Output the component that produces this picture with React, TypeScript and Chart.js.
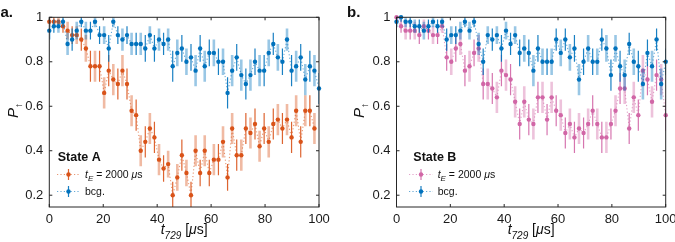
import React, { useEffect, useRef } from 'react';
import { Chart, registerables } from 'chart.js';

Chart.register(...registerables);

const FONT = '"Liberation Sans", Arial, Helvetica, sans-serif';

// Probe delay t_729 in microseconds (60 equally spaced settings)
const TIME_US = [
  0, 1.69, 3.39, 5.08, 6.78, 8.47, 10.17, 11.86, 13.56, 15.25,
  16.95, 18.64, 20.34, 22.03, 23.73, 25.42, 27.12, 28.81, 30.51, 32.2,
  33.9, 35.59, 37.29, 38.98, 40.68, 42.37, 44.07, 45.76, 47.46, 49.15,
  50.85, 52.54, 54.24, 55.93, 57.63, 59.32, 61.02, 62.71, 64.41, 66.1,
  67.8, 69.49, 71.19, 72.88, 74.58, 76.27, 77.97, 79.66, 81.36, 83.05,
  84.75, 86.44, 88.14, 89.83, 91.53, 93.22, 94.92, 96.61, 98.31, 100,
];

// State A, t_E = 2000 us
const A_SIGNAL = [
  0.98, 0.98, 0.98, 0.96, 0.94, 0.92, 0.92, 0.9, 0.86, 0.78,
  0.78, 0.78, 0.66, 0.76, 0.72, 0.7, 0.76, 0.7, 0.58, 0.56,
  0.4, 0.44, 0.5, 0.46, 0.36, 0.32, 0.34, 0.2, 0.28, 0.38,
  0.3, 0.2, 0.4, 0.3, 0.4, 0.3, 0.36, 0.36, 0.44, 0.28,
  0.5, 0.38, 0.38, 0.5, 0.48, 0.52, 0.42, 0.5, 0.44, 0.52,
  0.54, 0.5, 0.54, 0.46, 0.58, 0.44, 0.58, 0.58, 0.5,
];
const A_SIGNAL_ERR = [
  0.025, 0.025, 0.025, 0.03, 0.04, 0.04, 0.04, 0.05, 0.06, 0.07,
  0.07, 0.07, 0.07, 0.07, 0.07, 0.07, 0.07, 0.07, 0.07, 0.07,
  0.07, 0.07, 0.07, 0.07, 0.07, 0.06, 0.06, 0.06, 0.06, 0.07,
  0.06, 0.06, 0.07, 0.06, 0.07, 0.06, 0.07, 0.07, 0.07, 0.06,
  0.07, 0.07, 0.07, 0.07, 0.07, 0.07, 0.07, 0.07, 0.07, 0.07,
  0.07, 0.07, 0.07, 0.07, 0.07, 0.07, 0.07, 0.07, 0.07,
];
// State A, background
const A_BCG = [
  0.94, 0.96, 0.96, 0.98, 0.88, 0.9, 0.94, 0.98, 0.94, 0.94,
  0.98, 0.92, 0.92, 0.86, 0.98, 0.92, 0.9, 0.92, 0.88, 0.88,
  0.88, 0.86, 0.92, 0.86, 0.9, 0.88, 0.9, 0.78, 0.84, 0.86,
  0.8, 0.82, 0.76, 0.86, 0.78, 0.84, 0.84, 0.8, 0.8, 0.66,
  0.76, 0.82, 0.74, 0.7, 0.74, 0.8, 0.76, 0.76, 0.84, 0.88,
  0.82, 0.8, 0.9, 0.76, 0.78, 0.82, 0.72, 0.78, 0.76, 0.68,
];
const A_BCG_ERR = [
  0.04, 0.03, 0.03, 0.025, 0.05, 0.05, 0.04, 0.025, 0.04, 0.04,
  0.025, 0.04, 0.04, 0.06, 0.025, 0.04, 0.05, 0.04, 0.05, 0.05,
  0.05, 0.06, 0.04, 0.06, 0.05, 0.05, 0.05, 0.07, 0.06, 0.06,
  0.06, 0.06, 0.07, 0.06, 0.07, 0.06, 0.06, 0.06, 0.06, 0.07,
  0.07, 0.06, 0.07, 0.07, 0.07, 0.06, 0.07, 0.07, 0.06, 0.05,
  0.06, 0.06, 0.05, 0.07, 0.07, 0.06, 0.07, 0.07, 0.07, 0.07,
];

// State B, t_E = 2000 us
const B_SIGNAL = [
  1.0, 0.96, 0.94, 0.94, 0.94, 0.92, 0.96, 0.94, 0.92, 0.92,
  0.96, 0.82, 0.8, 0.86, 0.88, 0.76, 0.78, 0.84, 0.86, 0.7,
  0.7, 0.68, 0.64, 0.76, 0.74, 0.72, 0.62, 0.52, 0.62, 0.54,
  0.52, 0.64, 0.64, 0.54, 0.64, 0.58, 0.56, 0.48, 0.52, 0.46,
  0.5, 0.48, 0.52, 0.58, 0.52, 0.46, 0.46, 0.52, 0.58, 0.68,
  0.68, 0.5, 0.64, 0.56, 0.76, 0.72, 0.62, 0.74, 0.72, 0.56,
];
const B_SIGNAL_ERR = [
  0.02, 0.03, 0.04, 0.04, 0.04, 0.04, 0.03, 0.04, 0.04, 0.04,
  0.03, 0.06, 0.06, 0.06, 0.05, 0.07, 0.07, 0.06, 0.06, 0.07,
  0.07, 0.07, 0.07, 0.07, 0.07, 0.07, 0.07, 0.07, 0.07, 0.07,
  0.07, 0.07, 0.07, 0.07, 0.07, 0.07, 0.07, 0.07, 0.07, 0.07,
  0.07, 0.07, 0.07, 0.07, 0.07, 0.07, 0.07, 0.07, 0.07, 0.07,
  0.07, 0.07, 0.07, 0.07, 0.07, 0.07, 0.07, 0.07, 0.07, 0.07,
];
// State B, background
const B_BCG = [
  0.98, 1.0, 0.98, 0.98, 0.96, 0.96, 0.94, 0.96, 0.98, 0.96,
  0.98, 0.9, 0.92, 0.92, 0.94, 0.98, 0.94, 0.98, 0.88, 0.8,
  0.92, 0.9, 0.92, 0.86, 0.94, 0.88, 0.92, 0.84, 0.86, 0.84,
  0.76, 0.86, 0.8, 0.8, 0.8, 0.9, 0.84, 0.9, 0.82, 0.86,
  0.72, 0.8, 0.86, 0.8, 0.8, 0.9, 0.86, 0.74, 0.86, 0.78,
  0.74, 0.88, 0.8, 0.78, 0.7, 0.84, 0.78, 0.9, 0.7, 0.8,
];
const B_BCG_ERR = [
  0.025, 0.02, 0.025, 0.025, 0.03, 0.03, 0.04, 0.03, 0.025, 0.03,
  0.025, 0.05, 0.04, 0.04, 0.04, 0.025, 0.04, 0.025, 0.05, 0.06,
  0.04, 0.05, 0.04, 0.06, 0.04, 0.05, 0.04, 0.06, 0.06, 0.06,
  0.07, 0.06, 0.06, 0.06, 0.06, 0.05, 0.06, 0.05, 0.06, 0.06,
  0.07, 0.06, 0.06, 0.06, 0.06, 0.05, 0.06, 0.07, 0.06, 0.07,
  0.07, 0.05, 0.06, 0.07, 0.07, 0.06, 0.07, 0.05, 0.07, 0.06,
];

const Y_TICKS = [0.2, 0.4, 0.6, 0.8, 1];
const X_TICK_STEP = 20;

const ORANGE = [217, 83, 25];
const BLUE = [0, 114, 189];
const PINK = [209, 102, 166];

const rgba = (c: number[], a: number) => `rgba(${c[0]},${c[1]},${c[2]},${a})`;

type Run = { text: string; font: string; dy?: number };

function runsWidth(ctx: CanvasRenderingContext2D, runs: Run[]) {
  let w = 0;
  for (const r of runs) {
    ctx.font = r.font;
    w += ctx.measureText(r.text).width;
  }
  return w;
}

function drawRuns(ctx: CanvasRenderingContext2D, runs: Run[], x: number, y: number) {
  let cx = x;
  for (const r of runs) {
    ctx.font = r.font;
    ctx.fillText(r.text, cx, y + (r.dy || 0));
    cx += ctx.measureText(r.text).width;
  }
}

type SeriesSpec = { values: number[]; errors: number[]; color: number[]; order: number };

type PanelSpec = {
  left: number;
  width: number;
  padLeft: number;
  padRight: number;
  yAxisWidth: number;
  tag: string;
  tagX: number;
  yTitleX: number;
  stateName: string;
  legendTitleDx: number;
  legendLineDx: [number, number];
  legendTextDx: number;
  signal: SeriesSpec;
  bcg: SeriesSpec;
};

const errorBarPlugin = {
  id: 'errorBars',
  beforeDatasetDraw(chart: any, args: any) {
    const ds = chart.data.datasets[args.index];
    if (!ds.errors) return;
    const { ctx, chartArea } = chart;
    const ys = chart.scales.y;
    ctx.save();
    ctx.beginPath();
    ctx.rect(chartArea.left, chartArea.top, chartArea.right - chartArea.left, chartArea.bottom - chartArea.top);
    ctx.clip();
    args.meta.data.forEach((pt: any, i: number) => {
      const v = ds.data[i].y;
      const e = ds.errors[i];
      const y0 = ys.getPixelForValue(v - e);
      const y1 = ys.getPixelForValue(v + e);
      if (i % 2 === 0) {
        ctx.strokeStyle = rgba(ds.rgb, 0.4);
        ctx.lineWidth = 2.6;
      } else {
        ctx.strokeStyle = rgba(ds.rgb, 0.9);
        ctx.lineWidth = 1.2;
      }
      ctx.beginPath();
      ctx.moveTo(pt.x, y0);
      ctx.lineTo(pt.x, y1);
      ctx.stroke();
    });
    ctx.restore();
  },
};

function frameAndTextPlugin(spec: PanelSpec) {
  return {
    id: 'frameAndText',
    afterDatasetsDraw(chart: any) {
      const { ctx, chartArea } = chart;
      const xs = chart.scales.x;
      const ys = chart.scales.y;
      const L = chartArea.left, R = chartArea.right, T = chartArea.top, B = chartArea.bottom;
      ctx.save();
      ctx.strokeStyle = '#262626';
      ctx.lineWidth = 1;
      ctx.strokeRect(L, T, R - L, B - T);
      // inward tick marks on all four sides
      const tl = 3;
      ctx.beginPath();
      xs.ticks.forEach((t: any) => {
        const px = xs.getPixelForValue(t.value);
        ctx.moveTo(px, B); ctx.lineTo(px, B - tl);
        ctx.moveTo(px, T); ctx.lineTo(px, T + tl);
      });
      ys.ticks.forEach((t: any) => {
        const py = ys.getPixelForValue(t.value);
        ctx.moveTo(L, py); ctx.lineTo(L + tl, py);
        ctx.moveTo(R, py); ctx.lineTo(R - tl, py);
      });
      ctx.stroke();
      ctx.restore();
    },
    afterDraw(chart: any) {
      const { ctx, chartArea } = chart;
      const L = chartArea.left, R = chartArea.right;
      ctx.save();
      ctx.fillStyle = '#111';
      ctx.textBaseline = 'alphabetic';
      ctx.textAlign = 'left';

      // panel tag
      ctx.font = `bold 15px ${FONT}`;
      ctx.fillText(spec.tag, spec.tagX, 16.5);

      // y-axis title P_↑ (rotated)
      ctx.save();
      ctx.translate(spec.yTitleX, 118);
      ctx.rotate(-Math.PI / 2);
      drawRuns(ctx, [
        { text: 'P', font: `italic 15px ${FONT}` },
        { text: '↑', font: `10px ${FONT}`, dy: 4 },
      ], 0, 0);
      ctx.restore();

      // x-axis title t_729 [μs]
      const xRuns: Run[] = [
        { text: 't', font: `italic 14px ${FONT}` },
        { text: '729', font: `italic 10px ${FONT}`, dy: 4.5 },
        { text: ' [', font: `14px ${FONT}` },
        { text: 'μ', font: `italic 14px ${FONT}` },
        { text: 's]', font: `14px ${FONT}` },
      ];
      const w = runsWidth(ctx, xRuns);
      drawRuns(ctx, xRuns, (L + R) / 2 - w / 2, 234);

      // legend
      ctx.font = `bold 12.5px ${FONT}`;
      ctx.fillText(spec.stateName, L + spec.legendTitleDx, 161);
      const entries = [
        {
          s: spec.signal, y: 174.5,
          runs: [
            { text: 't', font: `italic 10.5px ${FONT}` },
            { text: 'E', font: `italic 8px ${FONT}`, dy: 3 },
            { text: ' = 2000 ', font: `10.5px ${FONT}` },
            { text: 'μ', font: `italic 10.5px ${FONT}` },
            { text: 's', font: `10.5px ${FONT}` },
          ] as Run[],
        },
        { s: spec.bcg, y: 191.5, runs: [{ text: 'bcg.', font: `10.5px ${FONT}` }] as Run[] },
      ];
      entries.forEach(({ s, y, runs }) => {
        const x0 = L + spec.legendLineDx[0];
        const x1 = L + spec.legendLineDx[1];
        const xm = (x0 + x1) / 2;
        ctx.save();
        ctx.setLineDash([1.2, 2.2]);
        ctx.strokeStyle = rgba(s.color, 0.6);
        ctx.lineWidth = 1.1;
        ctx.beginPath();
        ctx.moveTo(x0, y); ctx.lineTo(x1, y);
        ctx.stroke();
        ctx.setLineDash([]);
        ctx.strokeStyle = rgba(s.color, 0.9);
        ctx.lineWidth = 1.2;
        ctx.beginPath();
        ctx.moveTo(xm, y - 5.5); ctx.lineTo(xm, y + 5.5);
        ctx.stroke();
        ctx.fillStyle = rgba(s.color, 1);
        ctx.beginPath();
        ctx.arc(xm, y, 2.2, 0, Math.PI * 2);
        ctx.fill();
        ctx.restore();
        ctx.fillStyle = '#111';
        drawRuns(ctx, runs, L + spec.legendTextDx, y + 3.7);
      });
      ctx.restore();
    },
  };
}

function dataset(label: string, s: SeriesSpec) {
  return {
    label,
    data: s.values.map((v, i) => ({ x: TIME_US[i], y: v })),
    errors: s.errors,
    rgb: s.color,
    borderColor: rgba(s.color, 0.6),
    borderWidth: 1.1,
    borderDash: [1.2, 2.2],
    pointRadius: 2.2,
    pointHoverRadius: 2.2,
    pointBackgroundColor: rgba(s.color, 1),
    pointBorderWidth: 0,
    tension: 0,
    clip: 4,
    order: s.order,
  };
}

function buildConfig(spec: PanelSpec): any {
  const tickFont = { family: FONT, size: 13 };
  return {
    type: 'line',
    data: {
      datasets: [dataset('t_E = 2000 μs', spec.signal), dataset('bcg.', spec.bcg)],
    },
    options: {
      animation: false,
      responsive: false,
      maintainAspectRatio: false,
      events: [],
      layout: { padding: { left: spec.padLeft, right: spec.padRight, top: 17.3, bottom: 0 } },
      plugins: { legend: { display: false }, tooltip: { enabled: false } },
      scales: {
        x: {
          type: 'linear',
          min: 0,
          max: 100,
          ticks: { stepSize: X_TICK_STEP, font: tickFont, color: '#1a1a1a', padding: 5, maxRotation: 0 },
          grid: { display: false, drawTicks: false },
          border: { display: false },
          afterFit(scale: any) {
            scale.height = 35;
            scale.paddingLeft = 0;
            scale.paddingRight = 0;
          },
        },
        y: {
          type: 'linear',
          min: 0.147,
          max: 1,
          afterBuildTicks(scale: any) {
            scale.ticks = Y_TICKS.map((v) => ({ value: v }));
          },
          ticks: {
            font: tickFont,
            color: '#1a1a1a',
            padding: 6,
            callback: (v: number) => (v === 1 ? '1' : v.toFixed(1)),
          },
          grid: { display: false, drawTicks: false },
          border: { display: false },
          afterFit(scale: any) {
            scale.width = spec.yAxisWidth;
            scale.paddingTop = 0;
            scale.paddingBottom = 0;
          },
        },
      },
    },
    plugins: [errorBarPlugin, frameAndTextPlugin(spec)],
  };
}

const PANELS: PanelSpec[] = [
  {
    left: 0, width: 337, padLeft: 0, padRight: 18, yAxisWidth: 49.3,
    tag: 'a.', tagX: 0.5, yTitleX: 18, stateName: 'State A',
    legendTitleDx: 8.4, legendLineDx: [7.7, 30.7], legendTextDx: 35.7,
    signal: { values: A_SIGNAL, errors: A_SIGNAL_ERR, color: ORANGE, order: 1 },
    bcg: { values: A_BCG, errors: A_BCG_ERR, color: BLUE, order: 0 },
  },
  {
    left: 337, width: 338, padLeft: 10, padRight: 9.3, yAxisWidth: 49.5,
    tag: 'b.', tagX: 10, yTitleX: 27, stateName: 'State B',
    legendTitleDx: 16.8, legendLineDx: [12.5, 36.5], legendTextDx: 41.2,
    signal: { values: B_SIGNAL, errors: B_SIGNAL_ERR, color: PINK, order: 1 },
    bcg: { values: B_BCG, errors: B_BCG_ERR, color: BLUE, order: 0 },
  },
];

function Panel({ spec }: { spec: PanelSpec }) {
  const ref = useRef<HTMLCanvasElement>(null);
  useEffect(() => {
    const chart = new Chart(ref.current as HTMLCanvasElement, buildConfig(spec));
    return () => chart.destroy();
  }, [spec]);
  return (
    <canvas
      ref={ref}
      width={spec.width}
      height={242}
      style={{ position: 'absolute', left: spec.left, top: 0, width: spec.width, height: 242 }}
    />
  );
}

export default function App() {
  return (
    <div style={{ position: 'absolute', left: 0, top: 0, width: 675, height: 242, background: '#fff' }}>
      {PANELS.map((p) => (
        <Panel key={p.tag} spec={p} />
      ))}
    </div>
  );
}
